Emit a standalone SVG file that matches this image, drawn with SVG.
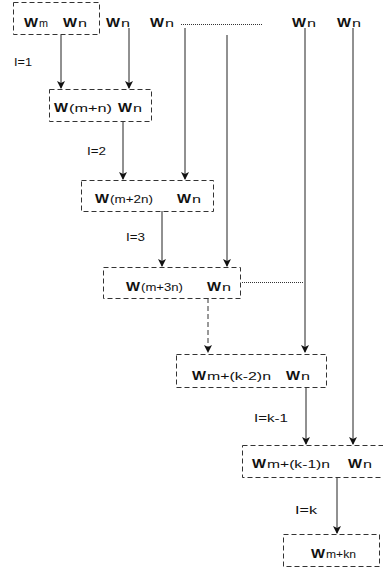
<svg xmlns="http://www.w3.org/2000/svg" width="383" height="573" viewBox="0 0 383 573">
<style>
.box{fill:none;stroke:#333;stroke-width:1;stroke-dasharray:5,3}
.ln{stroke:#222;stroke-width:1;fill:none}
.dot{stroke:#333;stroke-width:1;stroke-dasharray:1,1;fill:none}
.dsh{stroke:#333;stroke-width:1;stroke-dasharray:5,3;fill:none}
text{font-family:"Liberation Sans",Arial,sans-serif;fill:#111}
.w{font-size:13px;font-weight:bold}
.s{font-size:11px}
.lab{font-size:11px}
</style>
<defs>
<marker id="ah" markerWidth="8" markerHeight="10" refX="7" refY="4" orient="auto" markerUnits="userSpaceOnUse" viewBox="0 0 8 8">
<path d="M0,0 L8,4 L0,8 L2,4 Z" fill="#111"/>
</marker>
</defs>
<g id="connectors">
<line class="ln" x1="61" y1="35" x2="61" y2="88" marker-end="url(#ah)"/>
<line class="ln" x1="129" y1="28" x2="129" y2="88" marker-end="url(#ah)"/>
<line class="ln" x1="123" y1="121" x2="123" y2="179" marker-end="url(#ah)"/>
<line class="ln" x1="185" y1="28" x2="185" y2="179" marker-end="url(#ah)"/>
<line class="ln" x1="162" y1="211" x2="162" y2="266" marker-end="url(#ah)"/>
<line class="ln" x1="227" y1="35" x2="227" y2="266" marker-end="url(#ah)"/>
<line class="dsh" x1="208" y1="298" x2="208" y2="352" marker-end="url(#ah)"/>
<line class="ln" x1="305" y1="28" x2="305" y2="352" marker-end="url(#ah)"/>
<line class="ln" x1="306" y1="387" x2="306" y2="444" marker-end="url(#ah)"/>
<line class="ln" x1="353" y1="28" x2="353" y2="444" marker-end="url(#ah)"/>
<line class="ln" x1="337" y1="477" x2="337" y2="533" marker-end="url(#ah)"/>
<line class="dot" x1="181" y1="24.5" x2="262" y2="24.5"/>
<line class="dot" x1="242" y1="282.5" x2="303" y2="282.5"/>
</g>
<g id="top-labels">
<text class="w" x="106" y="27" textLength="14" lengthAdjust="spacingAndGlyphs">W</text><text class="s" x="121" y="27" textLength="9" lengthAdjust="spacingAndGlyphs">n</text>
<text class="w" x="150" y="27" textLength="14" lengthAdjust="spacingAndGlyphs">W</text><text class="s" x="165" y="27" textLength="9" lengthAdjust="spacingAndGlyphs">n</text>
<text class="w" x="292" y="27" textLength="14" lengthAdjust="spacingAndGlyphs">W</text><text class="s" x="307" y="27" textLength="9" lengthAdjust="spacingAndGlyphs">n</text>
<text class="w" x="337" y="27" textLength="14" lengthAdjust="spacingAndGlyphs">W</text><text class="s" x="352" y="27" textLength="9" lengthAdjust="spacingAndGlyphs">n</text>
</g>
<g id="node1">
<rect class="box" x="13.5" y="2.5" width="86" height="32"/>
<text class="w" x="24" y="27" textLength="14" lengthAdjust="spacingAndGlyphs">W</text><text class="s" x="39" y="27" textLength="9" lengthAdjust="spacingAndGlyphs">m</text>
<text class="w" x="63" y="27" textLength="14" lengthAdjust="spacingAndGlyphs">W</text><text class="s" x="78" y="27" textLength="9" lengthAdjust="spacingAndGlyphs">n</text>
</g>
<g id="node2">
<rect class="box" x="49.5" y="89.5" width="102" height="32"/>
<text class="w" x="54" y="112" textLength="14" lengthAdjust="spacingAndGlyphs">W</text><text class="s" x="69" y="112" textLength="43" lengthAdjust="spacingAndGlyphs">(m+n)</text>
<text class="w" x="118" y="112" textLength="14" lengthAdjust="spacingAndGlyphs">W</text><text class="s" x="133" y="112" textLength="9" lengthAdjust="spacingAndGlyphs">n</text>
</g>
<g id="node3">
<rect class="box" x="81.5" y="180.5" width="132" height="31"/>
<text class="w" x="95" y="203" textLength="14" lengthAdjust="spacingAndGlyphs">W</text><text class="s" x="110" y="203" textLength="43" lengthAdjust="spacingAndGlyphs">(m+2n)</text>
<text class="w" x="177" y="203" textLength="14" lengthAdjust="spacingAndGlyphs">W</text><text class="s" x="192" y="203" textLength="9" lengthAdjust="spacingAndGlyphs">n</text>
</g>
<g id="node4">
<rect class="box" x="103.5" y="267.5" width="137" height="31"/>
<text class="w" x="126" y="291" textLength="14" lengthAdjust="spacingAndGlyphs">W</text><text class="s" x="141" y="291" textLength="42" lengthAdjust="spacingAndGlyphs">(m+3n)</text>
<text class="w" x="207" y="291" textLength="14" lengthAdjust="spacingAndGlyphs">W</text><text class="s" x="222" y="291" textLength="9" lengthAdjust="spacingAndGlyphs">n</text>
</g>
<g id="node5">
<rect class="box" x="176.5" y="354.5" width="150" height="33"/>
<text class="w" x="192" y="380" textLength="14" lengthAdjust="spacingAndGlyphs">W</text><text class="s" x="207" y="380" textLength="64" lengthAdjust="spacingAndGlyphs">m+(k-2)n</text>
<text class="w" x="286" y="380" textLength="14" lengthAdjust="spacingAndGlyphs">W</text><text class="s" x="301" y="380" textLength="9" lengthAdjust="spacingAndGlyphs">n</text>
</g>
<g id="node6">
<rect class="box" x="242.5" y="445.5" width="145" height="32"/>
<text class="w" x="252" y="468" textLength="14" lengthAdjust="spacingAndGlyphs">W</text><text class="s" x="267" y="468" textLength="63" lengthAdjust="spacingAndGlyphs">m+(k-1)n</text>
<text class="w" x="348" y="468" textLength="14" lengthAdjust="spacingAndGlyphs">W</text><text class="s" x="363" y="468" textLength="9" lengthAdjust="spacingAndGlyphs">n</text>
</g>
<g id="node7">
<rect class="box" x="283.5" y="534.5" width="96" height="32"/>
<text class="w" x="311" y="558" textLength="14" lengthAdjust="spacingAndGlyphs">W</text><text class="s" x="326" y="558" textLength="30" lengthAdjust="spacingAndGlyphs">m+kn</text>
</g>
<g id="level-labels">
<text class="lab" x="14" y="66" textLength="18" lengthAdjust="spacingAndGlyphs">I=1</text>
<text class="lab" x="87" y="155" textLength="19" lengthAdjust="spacingAndGlyphs">I=2</text>
<text class="lab" x="126" y="241" textLength="19" lengthAdjust="spacingAndGlyphs">I=3</text>
<text class="lab" x="254" y="422" textLength="34" lengthAdjust="spacingAndGlyphs">I=k-1</text>
<text class="lab" x="295" y="514" textLength="22" lengthAdjust="spacingAndGlyphs">I=k</text>
</g>
</svg>
